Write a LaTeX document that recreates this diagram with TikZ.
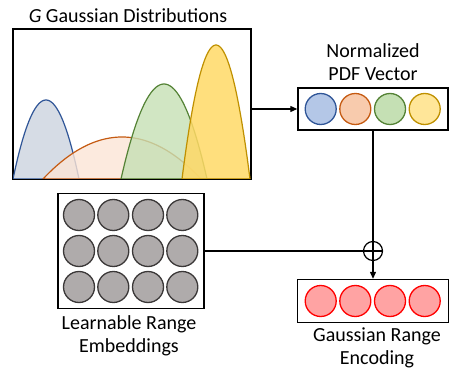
\documentclass[tikz,border=0pt]{standalone}
\usepackage{fontspec}
\setmainfont{Carlito}
\usetikzlibrary{arrows.meta,positioning}
\definecolor{bluefill}{HTML}{B4C7E7}
\definecolor{blueline}{HTML}{2F5597}
\definecolor{bluedist}{HTML}{D6DCE5}
\definecolor{orangefill}{HTML}{F8CBAD}
\definecolor{orangeline}{HTML}{C55A11}
\definecolor{orangedist}{HTML}{FBE5D6}
\definecolor{greenfill}{HTML}{C5E0B4}
\definecolor{greenline}{HTML}{548235}
\definecolor{yellowfill}{HTML}{FFE699}
\definecolor{yellowline}{HTML}{BF9000}
\definecolor{yellowdist}{HTML}{FFD966}
\definecolor{grayfill}{HTML}{AFABAB}
\definecolor{grayline}{HTML}{3B3838}
\definecolor{redfill}{HTML}{FFA3A3}
\tikzset{
  panel/.style={draw, line width=1.4pt, inner sep=0pt},
  unit/.style={circle, draw, line width=1.3pt, minimum size=31pt, inner sep=0pt},
  lbl/.style={align=center, inner sep=0pt, font=\fontsize{20}{23}\selectfont},
  link/.style={line width=1.2pt},
  curve/.style={line width=1.2pt},
}
\begin{document}
\begin{tikzpicture}[x=1pt,y=1pt,yscale=-1]
  \useasboundingbox (0,0) rectangle (449,371);
  % Gaussian panel
  \node (gauss) [panel, minimum width=238pt, minimum height=150pt] at (132,104) {};
  \begin{scope}
    \clip (gauss.south west) rectangle (gauss.north east);
    \filldraw [curve, draw=blueline, fill=bluedist] plot [domain=13:79, samples=50] (\x,{179-79*(1-((\x-46)/33)^2)}) -- cycle;
    \filldraw [curve, draw=orangeline, fill=orangedist, fill opacity=0.8] plot [domain=43:201, samples=60] (\x,{179-42*(1-((\x-122)/79)^2)}) -- cycle;
    \filldraw [curve, draw=greenline, fill=greenfill, fill opacity=0.8] plot [domain=121:207, samples=50] (\x,{179-95*(1-((\x-164)/43)^2)}) -- cycle;
    \filldraw [curve, draw=yellowline, fill=yellowdist, fill opacity=0.85] plot [domain=182:250, samples=50] (\x,{179-134*(1-((\x-216)/34)^2)}) -- cycle;
  \end{scope}
  \draw [line width=1.4pt] (gauss.south west) rectangle (gauss.north east);
  % Text Node
  \node (gausstxt) [lbl] at (128,16) {\textit{G} Gaussian Distributions};

  % PDF vector
  \node (pdf) [panel, minimum width=150pt, minimum height=42pt] at (373,109) {};
  \node (pdf1) [unit, draw=blueline, fill=bluefill] at (320.7,109) {};
  \node (pdf2) [unit, draw=orangeline, fill=orangefill] at (355.3,109) {};
  \node (pdf3) [unit, draw=greenline, fill=greenfill] at (390,109) {};
  \node (pdf4) [unit, draw=yellowline, fill=yellowfill] at (424.7,109) {};
  % Text Node
  \node (pdftxt) [lbl] at (373,62) {Normalized\\PDF Vector};

  % Learnable embeddings
  \node (emb) [panel, minimum width=146pt, minimum height=115pt] at (131,251) {};
  \foreach \i/\cx in {1/79,2/113.3,3/148,4/182.3}
    \foreach \j/\cy in {1/215,2/251,3/287}
      \node (emb\i\j) [unit, draw=grayline, fill=grayfill] at (\cx,\cy) {};
  % Text Node
  \node (embtxt) [lbl] at (129,336) {Learnable Range\\Embeddings};

  % Range encoding
  \node (enc) [panel, minimum width=151pt, minimum height=43pt] at (373,301) {};
  \foreach \k/\cx in {1/320.7,2/355.3,3/390,4/424.7}
    \node (enc\k) [unit, draw=red, fill=redfill] at (\cx,301) {};
  % Text Node
  \node (enctxt) [lbl] at (377,348) {Gaussian Range\\Encoding};

  % sum
  \node (plus) [circle, draw, line width=1.2pt, minimum size=19pt, inner sep=0pt,
    path picture={\draw [line width=1.2pt] (path picture bounding box.north) -- (path picture bounding box.south)
      (path picture bounding box.west) -- (path picture bounding box.east);}] at (373,251) {};

  % connectors
  \draw [link, -{Triangle[length=7pt,width=6pt]}] (gauss.east |- pdf.west) -- (pdf.west);
  \draw [link] (pdf.south) -- (plus.north);
  \draw [link] (emb.east) -- (plus.west);
  \draw [link, -{Triangle[length=7pt,width=6pt]}] (plus.south) -- (enc.north);
\end{tikzpicture}
\end{document}
